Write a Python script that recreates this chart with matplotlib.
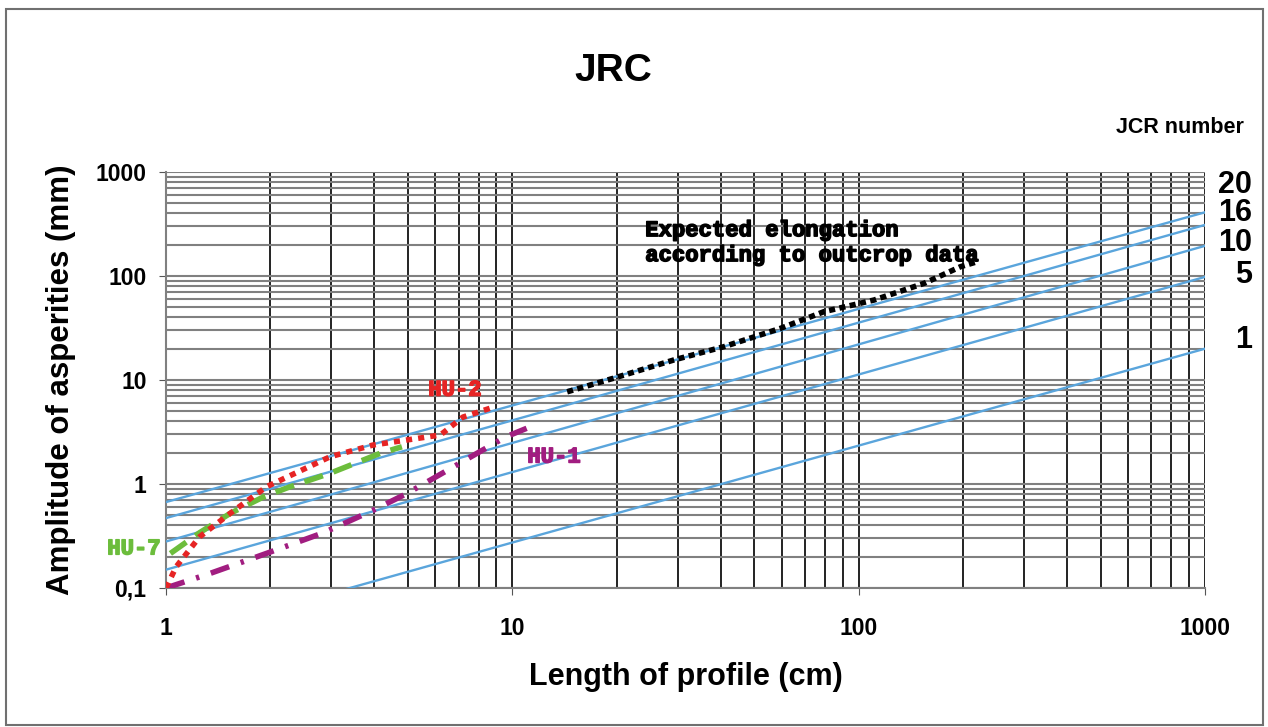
import matplotlib
matplotlib.use("Agg")
import matplotlib.pyplot as plt
import matplotlib.patheffects as pe
from matplotlib.ticker import FixedLocator, NullFormatter, LogLocator
from matplotlib.patches import Rectangle

# ---- data ----
jrc_numbers = [20, 16, 10, 5, 1]
jrc_length = [1, 1000]
jrc_amp_1cm = [0.67, 0.47, 0.28, 0.15, 0.032]
jrc_amp_1000cm = [410, 310, 195, 98, 20]
jrc_label_amp = [750, 404, 207, 102, 24]

hu2_x = [1.0, 1.07, 1.25, 1.53, 1.95, 2.98, 3.96, 4.96, 6.2, 7.2, 8.7]
hu2_y = [0.10, 0.16, 0.31, 0.52, 0.94, 1.83, 2.37, 2.65, 2.96, 4.4, 5.4]

hu7_x = [1.03, 1.25, 1.53, 1.91, 2.28, 2.98, 4.15, 4.8]
hu7_y = [0.215, 0.34, 0.52, 0.75, 0.94, 1.27, 1.97, 2.28]

hu1_x = [1.0, 1.34, 1.95, 2.85, 3.97, 4.96, 6.9, 7.9, 9.6, 11.0]
hu1_y = [0.10, 0.138, 0.215, 0.34, 0.56, 0.81, 1.52, 1.97, 2.85, 3.43]

exp_x = [14.4, 19.6, 29.3, 40.8, 59.5, 79.4, 110.7, 154.5, 197, 218]
exp_y = [7.7, 10.4, 15.6, 20.9, 31.4, 45.4, 58.7, 85, 123, 136]

x_ticks = [1, 10, 100, 1000]
x_ticklabels = ["1", "10", "100", "1000"]
y_ticks = [0.1, 1, 10, 100, 1000]
y_ticklabels = ["0,1", "1", "10", "100", "1000"]

plt.rcParams['font.family'] = ['Liberation Sans', 'DejaVu Sans']

fig = plt.figure(figsize=(12.68, 7.27), dpi=100)
fig.patches.append(Rectangle((0.005, 0.003), 0.991, 0.985, transform=fig.transFigure,
                             fill=False, edgecolor='#707070', linewidth=1.5))
ax = fig.add_axes([0.1309, 0.1912, 0.8194, 0.5722])
ax.set_xscale('log')
ax.set_yscale('log')
ax.set_xlim(1, 1000)
ax.set_ylim(0.1, 1000)

# grid
ax.xaxis.set_major_locator(FixedLocator(x_ticks))
ax.xaxis.set_minor_locator(LogLocator(base=10, subs=range(2, 10)))
ax.yaxis.set_major_locator(FixedLocator(y_ticks))
ax.yaxis.set_minor_locator(LogLocator(base=10, subs=range(2, 10)))
ax.xaxis.set_minor_formatter(NullFormatter())
ax.yaxis.set_minor_formatter(NullFormatter())
ax.grid(True, which='both', axis='x', color='#111111', linewidth=1.3)
ax.grid(True, which='both', axis='y', color='#808080', linewidth=1.5)
ax.set_axisbelow(True)

for s in ['top', 'right']:
    ax.spines[s].set_visible(False)
ax.spines['left'].set_color('#808080')
ax.spines['bottom'].set_color('#808080')
ax.spines['left'].set_linewidth(1.5)
ax.spines['bottom'].set_linewidth(1.5)

ax.set_xticks(x_ticks)
ax.set_xticklabels(x_ticklabels, fontsize=16.5, fontweight='bold')
ax.set_yticks(y_ticks)
ax.set_yticklabels(y_ticklabels, fontsize=16.5, fontweight='bold')
ax.tick_params(which='major', length=5, color='#555555')
ax.tick_params(axis='x', pad=16)
ax.tick_params(axis='y', pad=9)
ax.tick_params(which='minor', length=0)

# JRC lines
for n, a1, a2, ly in zip(jrc_numbers, jrc_amp_1cm, jrc_amp_1000cm, jrc_label_amp):
    ax.plot(jrc_length, [a1, a2], color='#5aa5dc', linewidth=1.7, zorder=3)
    ax.text(1.045, ly, str(n), transform=ax.get_yaxis_transform(),
            fontsize=22, fontweight='bold', ha='right', va='center')

ax.plot(exp_x, exp_y, color='black', linewidth=4, linestyle=(0, (1.1, 0.8)), zorder=4)
ax.plot(hu7_x, hu7_y, color='#6cbd3c', linewidth=4, linestyle=(0, (3.5, 2.0)), zorder=4)
ax.plot(hu2_x, hu2_y, color='#e62424', linewidth=4, linestyle=(0, (1.1, 1.1)), zorder=5)
ax.plot(hu1_x, hu1_y, color='#a11d80', linewidth=4, linestyle=(0, (3.5, 2.2, 0.6, 2.2)), zorder=4)

mono = dict(family=['Liberation Mono', 'DejaVu Sans Mono'], fontweight='bold', fontsize=16)


def heavy(c):
    return [pe.withStroke(linewidth=1.1, foreground=c)]


ax.text(5.72, 8.0, "HU-2", color='#e62424', va='center', ha='left',
        path_effects=heavy('#e62424'), **mono)
ax.text(11.05, 1.82, "HU-1", color='#a11d80', va='center', ha='left',
        path_effects=heavy('#a11d80'), **mono)
ax.text(-0.005, 0.238, "HU-7", color='#6cbd3c', va='center', ha='right',
        transform=ax.get_yaxis_transform(), path_effects=heavy('#6cbd3c'), **mono)
ax.text(24.2, 207, "Expected elongation\naccording to outcrop data", color='black',
        va='center', ha='left', linespacing=1.25, path_effects=heavy('black'), **mono)

fig.text(0.484, 0.902, "JRC", fontsize=28, fontweight='bold', ha='center', va='center')
fig.text(0.9306, 0.824, "JCR number", fontsize=15.5, fontweight='bold', ha='center', va='center')
ax.set_xlabel("Length of profile (cm)", fontsize=22, fontweight='bold', labelpad=16)
ax.set_ylabel("Amplitude of asperities (mm)", fontsize=22.5, fontweight='bold', labelpad=14)

fig.savefig("out.png", dpi=100)
